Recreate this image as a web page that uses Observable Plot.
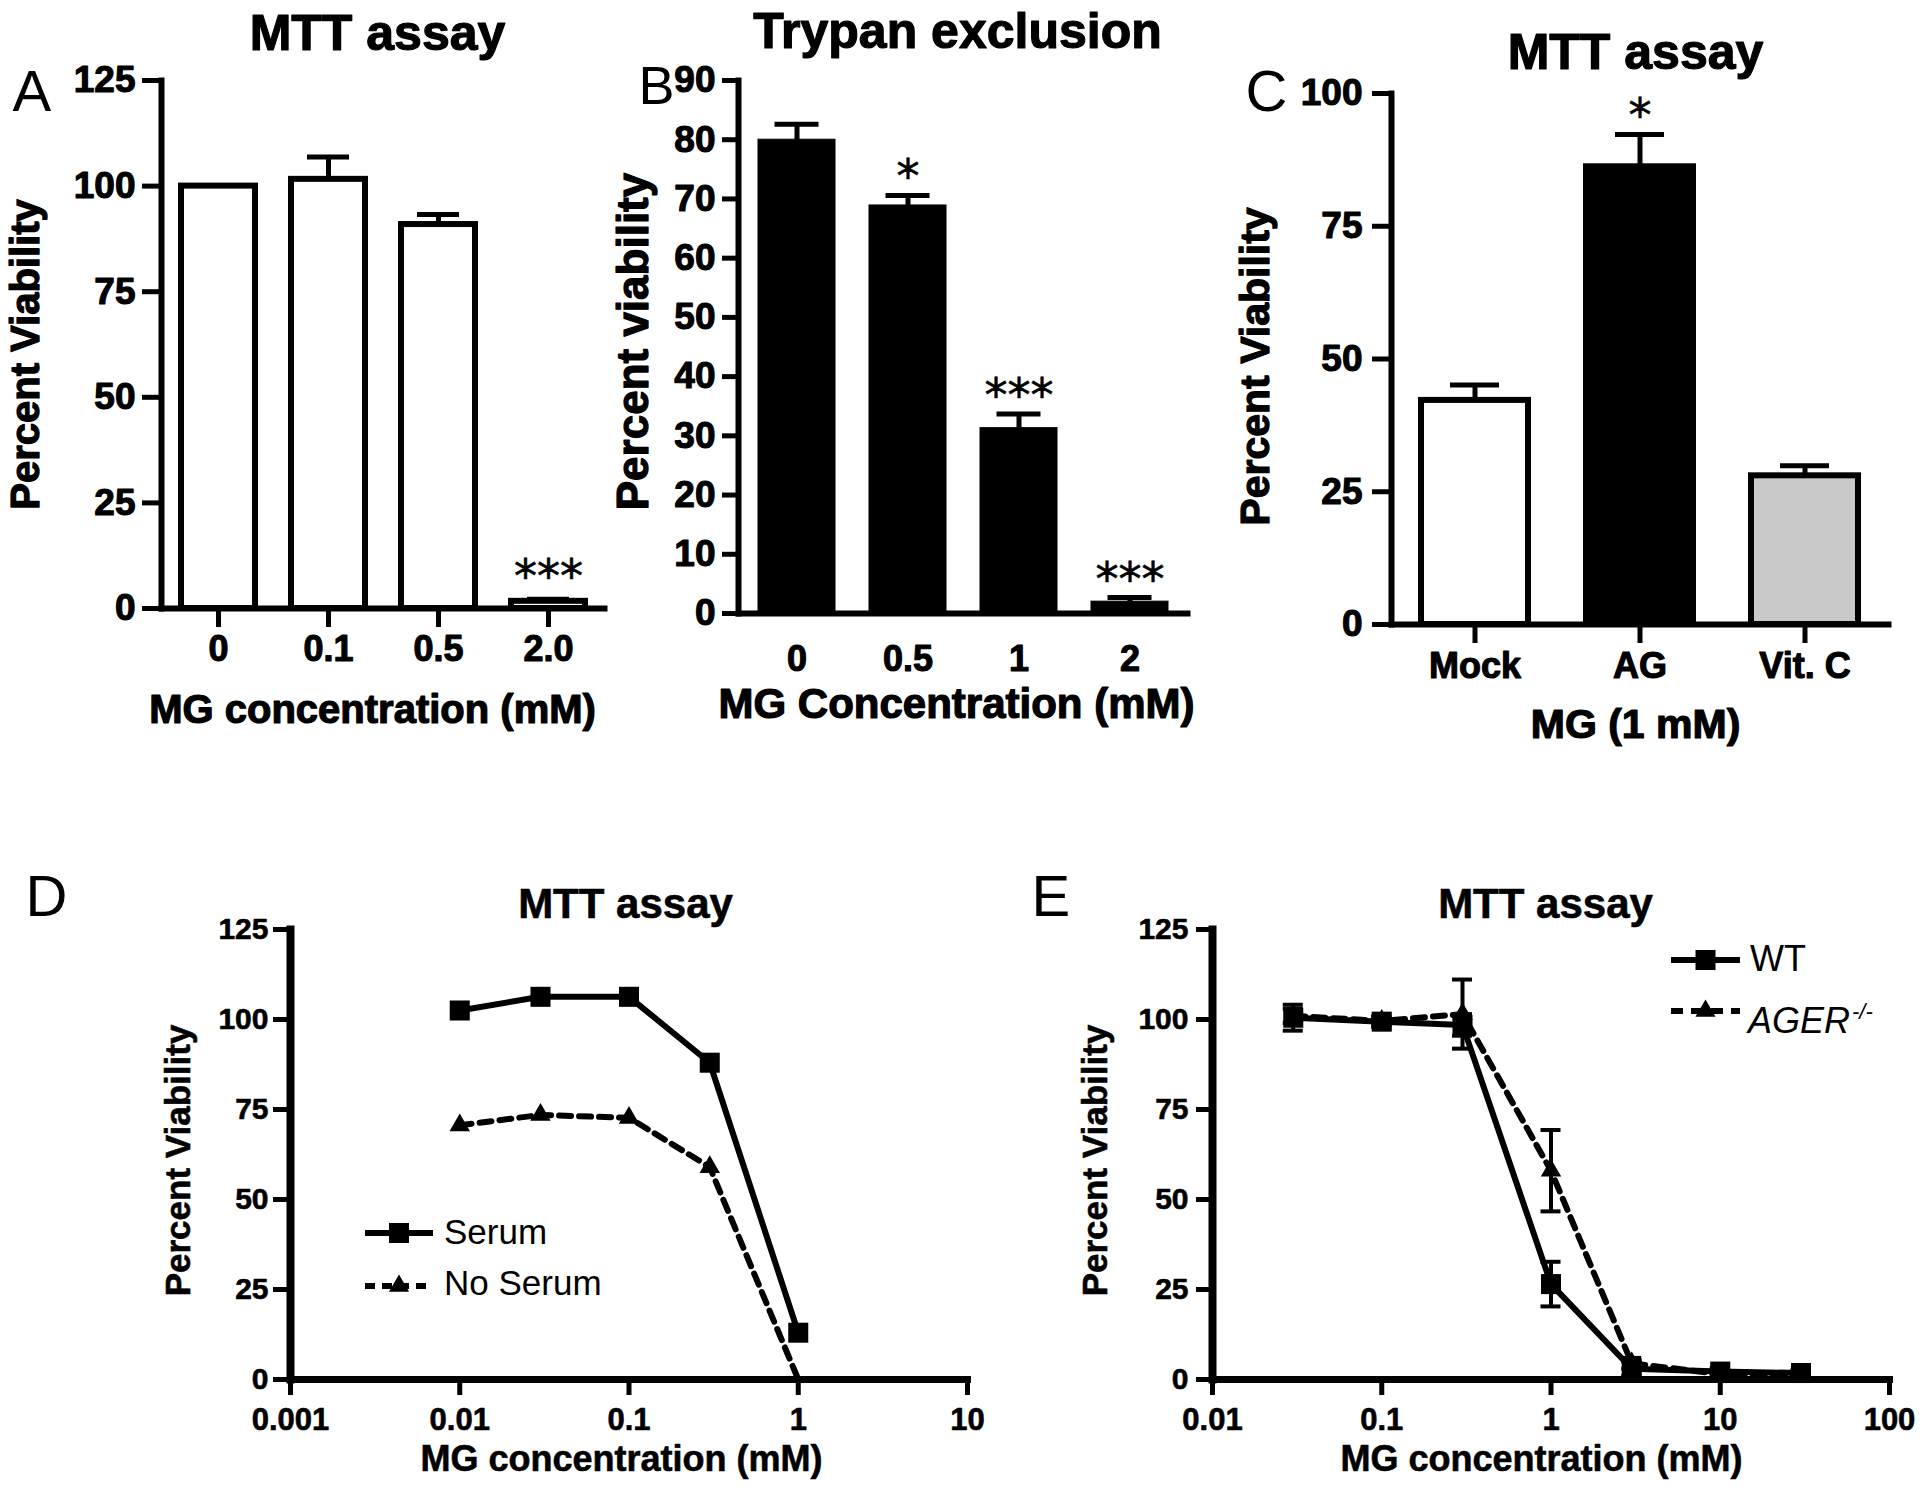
<!DOCTYPE html>
<html>
<head>
<meta charset="utf-8">
<script src="https://cdn.jsdelivr.net/npm/d3@7"></script>
<script src="https://cdn.jsdelivr.net/npm/@observablehq/plot@0.6"></script>
<style>
  html, body { margin: 0; padding: 0; background: #fff; }
  #fig { position: relative; width: 1920px; height: 1494px; background: #fff; overflow: hidden;
         font-family: "Liberation Sans", Arial, Helvetica, sans-serif; color: #000; }
  #fig > svg { position: absolute; overflow: visible; }
  .legtext { position: absolute; line-height: 1; white-space: nowrap; }
  .legsw { position: absolute; overflow: visible; }
</style>
</head>
<body>
<div id="fig"></div>
<script>
// ---------------- DATA ----------------
// Panel A: MTT assay
const aCats  = ["0", "0.1", "0.5", "2.0"];
const aMeans = [100, 101.6, 90.9, 1.7];
const aErrs  = [0, 5.3, 2.4, 0.5];
const aStars = ["", "", "", "***"];
const aYTicks = [0, 25, 50, 75, 100, 125];

// Panel B: Trypan exclusion
const bCats  = ["0", "0.5", "1", "2"];
const bMeans = [80, 68.9, 31.3, 2.0];
const bErrs  = [2.6, 1.7, 2.4, 0.7];
const bStars = ["", "*", "***", "***"];
const bYTicks = [0, 10, 20, 30, 40, 50, 60, 70, 80, 90];

// Panel C: MTT assay, MG (1 mM)
const cCats  = ["Mock", "AG", "Vit. C"];
const cMeans = [42.2, 86.2, 28.0];
const cErrs  = [2.9, 6.1, 1.9];
const cStars = ["", "*", ""];
const cYTicks = [0, 25, 50, 75, 100];

// Panel D: MTT assay, serum vs no serum
const dConc     = [0.01, 0.03, 0.1, 0.3, 1];
const dSerum    = [102.5, 106.3, 106.3, 88, 13];
const dNoSerum  = [70.6, 73.5, 72.7, 59, 0];
const dSeries   = ["Serum", "No Serum"];
const dXTicks   = [0.001, 0.01, 0.1, 1, 10];
const dXLabels  = ["0.001", "0.01", "0.1", "1", "10"];

// Panel E: MTT assay, WT vs AGER-/-
const eConc     = [0.03, 0.1, 0.3, 1, 3, 10, 30];
const eWT       = [100.5, 99.4, 98.5, 26.5, 3.0, 2.2, 1.8];
const eWTErr    = [3.6, 1.5, 3.0, 6.2, 2.0, 1.0, 0.8];
const eAGER     = [101.0, 99.6, 101.5, 58.0, 4.5, 1.5, 1.0];
const eAGERErr  = [2.0, 1.0, 9.6, 11.3, 1.5, 0.5, 0.5];
const eSeries   = ["WT", "AGER"];
const eXTicks   = [0.01, 0.1, 1, 10, 100];
const eXLabels  = ["0.01", "0.1", "1", "10", "100"];

const lineYTicks = [0, 25, 50, 75, 100, 125];

// ---------------- HELPERS ----------------
const FONT = '"Liberation Sans", Arial, Helvetica, sans-serif';
const fig = document.getElementById("fig");

function put(svg, p, tickStroke) {
  svg.style.left = p.left + "px";
  svg.style.top = p.top + "px";
  // embolden the tick labels a little, as in the original figure
  d3.select(svg).selectAll('g[aria-label$="tick label"]')
    .attr("stroke", "black").attr("stroke-width", tickStroke).attr("stroke-linejoin", "round");
  fig.appendChild(svg);
}

// text placed at an absolute page position (X, Y)
function txt(p, s, X, Y, o = {}) {
  return Plot.text([s], {
    text: d => d, frameAnchor: "top-left",
    dx: X - p.left - p.mL, dy: Y - p.top - p.mT,
    fontFamily: FONT, fill: "black", ...o
  });
}

function panelTexts(p, t) {
  const bold = {fontWeight: "bold", stroke: "black", strokeWidth: t.boldStroke, strokeLinejoin: "round"};
  return [
    txt(p, t.title, t.titleX, t.titleY, {fontSize: t.titleSize, ...bold, textAnchor: "middle", lineAnchor: "bottom"}),
    txt(p, t.letter, t.letterX, t.letterY, {fontSize: t.letterSize, textAnchor: "start", lineAnchor: "bottom"}),
    txt(p, t.ylab, t.ylabX, t.ylabY, {fontSize: t.ylabSize, ...bold, rotate: -90, textAnchor: "middle", lineAnchor: "top"}),
    txt(p, t.xlab, t.xlabX, t.xlabY, {fontSize: t.xlabSize, ...bold, textAnchor: "middle", lineAnchor: "bottom"})
  ];
}

function barPanel(p, t) {
  const rows = p.cats.map((cat, i) => ({cat, v: p.means[i], e: p.errs[i], hi: p.means[i] + p.errs[i], star: p.stars[i]}));
  const withErr = rows.filter(d => d.e > 0);
  const svg = Plot.plot({
    width: p.w, height: p.h,
    marginLeft: p.mL, marginRight: p.mR, marginTop: p.mT, marginBottom: p.mB,
    style: {fontFamily: FONT, overflow: "visible", background: "transparent", color: "black"},
    x: {type: "band", domain: p.cats, paddingInner: p.pi, paddingOuter: p.po},
    y: {domain: [0, p.yTicks[p.yTicks.length - 1]]},
    color: p.color,
    marks: [
      Plot.barY(rows, {x: "cat", y: "v", fill: p.fill, stroke: "black", strokeWidth: p.barStroke}),
      Plot.ruleX(withErr, {x: "cat", y1: "v", y2: "hi", stroke: "black", strokeWidth: 5}),
      Plot.tickY(withErr, {x: "cat", y: "hi", stroke: "black", strokeWidth: 5, inset: p.capInset}),
      Plot.text(rows, {x: "cat", y: "hi", text: "star", lineAnchor: "bottom", dy: p.starDy, fontSize: 46,
                       fontFamily: "DejaVu Sans", fill: "black", stroke: "black", strokeWidth: 0.6}),
      Plot.axisY({ticks: p.yTicks, label: null, tickSize: p.yTickSize, tickPadding: p.yTickPad,
                  fontSize: 37, fontWeight: "bold", strokeWidth: 5, stroke: "black", fill: "black"}),
      Plot.axisX({label: null, tickSize: p.xTickSize, tickPadding: p.xTickPad,
                  fontSize: 36, fontWeight: "bold", strokeWidth: 5, stroke: "black", fill: "black"}),
      Plot.frame({anchor: "left", stroke: "black", strokeWidth: 6}),
      Plot.frame({anchor: "bottom", stroke: "black", strokeWidth: 6}),
      ...panelTexts(p, t)
    ]
  });
  put(svg, p, 1.1);
}

function linePanel(p, t) {
  const s1 = p.x.map((c, i) => ({c, v: p.y1[i], e: p.e1 ? p.e1[i] : 0}));
  const s2 = p.x.map((c, i) => ({c, v: p.y2[i], e: p.e2 ? p.e2[i] : 0}));
  const errs = [...s1, ...s2].filter(d => d.e > 0);
  const k = Math.pow(10, 10 / p.pxPerDecade); // cap half-width of 10 px on the log axis
  const fmt = new Map(p.xTicks.map((d, i) => [d, p.xLabels[i]]));
  const svg = Plot.plot({
    width: p.w, height: p.h,
    marginLeft: p.mL, marginRight: p.mR, marginTop: p.mT, marginBottom: p.mB,
    style: {fontFamily: FONT, overflow: "visible", background: "transparent", color: "black"},
    x: {type: "log", domain: [p.xTicks[0], p.xTicks[p.xTicks.length - 1]]},
    y: {domain: [0, lineYTicks[lineYTicks.length - 1]]},
    marks: [
      Plot.ruleX(errs, {x: "c", y1: d => d.v - d.e, y2: d => d.v + d.e, stroke: "black", strokeWidth: 4}),
      Plot.ruleY(errs, {x1: d => d.c / k, x2: d => d.c * k, y: d => d.v + d.e, stroke: "black", strokeWidth: 4}),
      Plot.ruleY(errs, {x1: d => d.c / k, x2: d => d.c * k, y: d => Math.max(0, d.v - d.e), stroke: "black", strokeWidth: 4}),
      Plot.line(s1, {x: "c", y: "v", stroke: "black", strokeWidth: 6}),
      Plot.line(s2, {x: "c", y: "v", stroke: "black", strokeWidth: 6, strokeDasharray: "12,8"}),
      Plot.dot(s2.filter(d => d.v > 0), {x: "c", y: "v", symbol: "triangle", r: 7.6, fill: "black"}),
      Plot.dot(s1, {x: "c", y: "v", symbol: "square", r: 11.3, fill: "black"}),
      Plot.axisY({ticks: lineYTicks, label: null, tickSize: p.yTickSize, tickPadding: p.yTickPad,
                  fontSize: 30, fontWeight: "bold", strokeWidth: 5, stroke: "black", fill: "black"}),
      Plot.axisX({ticks: p.xTicks, tickFormat: d => fmt.get(d), label: null, tickSize: 16, tickPadding: 12,
                  fontSize: 31, fontWeight: "bold", strokeWidth: 5, stroke: "black", fill: "black"}),
      Plot.frame({anchor: "left", stroke: "black", strokeWidth: 8}),
      Plot.frame({anchor: "bottom", stroke: "black", strokeWidth: 7}),
      ...panelTexts(p, t)
    ]
  });
  put(svg, p, 0.6);
}

// legend entry (HTML overlay)
function legendItem(o) {
  const sw = d3.create("svg").attr("class", "legsw").attr("width", o.w).attr("height", 30)
    .style("left", o.x + "px").style("top", (o.cy - 15) + "px");
  sw.append("line").attr("x1", 0).attr("x2", o.w).attr("y1", 15).attr("y2", 15)
    .attr("stroke", "black").attr("stroke-width", 6).attr("stroke-dasharray", o.dash || null);
  sw.append("path").attr("transform", `translate(${o.w / 2},15)`)
    .attr("d", d3.symbol(o.symbol, o.size)()).attr("fill", "black");
  fig.appendChild(sw.node());
  const div = document.createElement("div");
  div.className = "legtext";
  div.style.left = o.tx + "px";
  div.style.top = (o.baseline - 0.8465 * o.fs) + "px";
  div.style.fontSize = o.fs + "px";
  if (o.italic) {
    const i = document.createElement("i"); i.textContent = o.label; div.appendChild(i);
    const sup = document.createElement("span");
    sup.textContent = "-/-";
    sup.style.fontSize = "22px"; sup.style.fontStyle = "italic";
    sup.style.position = "relative"; sup.style.top = "-14px"; sup.style.marginLeft = "2px";
    div.appendChild(sup);
  } else {
    div.textContent = o.label;
  }
  fig.appendChild(div);
}

// ---------------- PANELS ----------------
const pA = {left: 0, top: 0, w: 630, h: 760, mL: 161, mR: 26, mT: 80, mB: 152,
  cats: aCats, means: aMeans, errs: aErrs, stars: aStars, yTicks: aYTicks,
  pi: 0.33, po: 0.165, fill: "white", barStroke: 6, capInset: 16, starDy: -7,
  yTickSize: 19, yTickPad: 7, xTickSize: 19, xTickPad: 8};
barPanel(pA, {title: "MTT assay", titleX: 377, titleY: 49, titleSize: 50, boldStroke: 1.2,
  letter: "A", letterX: 12, letterY: 110, letterSize: 58,
  ylab: "Percent Viability", ylabX: 10, ylabY: 354, ylabSize: 40,
  xlab: "MG concentration (mM)", xlabX: 372, xlabY: 722, xlabSize: 40});

const pB = {left: 630, top: 0, w: 600, h: 760, mL: 108, mR: 43, mT: 80, mB: 147,
  cats: bCats, means: bMeans, errs: bErrs, stars: bStars, yTicks: bYTicks,
  pi: 0.31, po: 0.17, fill: "black", barStroke: 1, capInset: 16.5, starDy: -3,
  yTickSize: 16, yTickPad: 7, xTickSize: 0, xTickPad: 32};
barPanel(pB, {title: "Trypan exclusion", titleX: 957, titleY: 47, titleSize: 50, boldStroke: 1.2,
  letter: "B", letterX: 638, letterY: 103, letterSize: 54,
  ylab: "Percent viability", ylabX: 616, ylabY: 341, ylabSize: 44,
  xlab: "MG Concentration (mM)", xlabX: 956, xlabY: 717, xlabSize: 42});

const pC = {left: 1230, top: 0, w: 690, h: 760, mL: 161, mR: 32, mT: 93, mB: 136,
  cats: cCats, means: cMeans, errs: cErrs, stars: cStars, yTicks: cYTicks,
  pi: 0.353, po: 0.18, fill: "cat", barStroke: 6, capInset: 29, starDy: -3,
  color: {domain: cCats, range: ["white", "black", "#c8c8c8"]},
  yTickSize: 19, yTickPad: 10, xTickSize: 19, xTickPad: 9};
barPanel(pC, {title: "MTT assay", titleX: 1635, titleY: 68, titleSize: 50, boldStroke: 1.2,
  letter: "C", letterX: 1245, letterY: 110, letterSize: 58,
  ylab: "Percent Viability", ylabX: 1239, ylabY: 366, ylabSize: 41,
  xlab: "MG (1 mM)", xlabX: 1635, xlabY: 737, xlabSize: 41});

const pD = {left: 0, top: 760, w: 975, h: 734, mL: 290, mR: 8, mT: 169, mB: 115,
  x: dConc, y1: dSerum, y2: dNoSerum, xTicks: dXTicks, xLabels: dXLabels, pxPerDecade: 169.25,
  yTickSize: 17, yTickPad: 5};
linePanel(pD, {title: "MTT assay", titleX: 625, titleY: 917, titleSize: 42, boldStroke: 0.6,
  letter: "D", letterX: 25, letterY: 915, letterSize: 58,
  ylab: "Percent Viability", ylabX: 165, ylabY: 1160, ylabSize: 35,
  xlab: "MG concentration (mM)", xlabX: 621, xlabY: 1470, xlabSize: 36});

const pE = {left: 975, top: 760, w: 945, h: 734, mL: 237, mR: 31, mT: 169, mB: 115,
  x: eConc, y1: eWT, e1: eWTErr, y2: eAGER, e2: eAGERErr, xTicks: eXTicks, xLabels: eXLabels, pxPerDecade: 169.25,
  yTickSize: 16, yTickPad: 8};
linePanel(pE, {title: "MTT assay", titleX: 1545, titleY: 917, titleSize: 42, boldStroke: 0.6,
  letter: "E", letterX: 1031, letterY: 915, letterSize: 58,
  ylab: "Percent Viability", ylabX: 1082, ylabY: 1160, ylabSize: 35,
  xlab: "MG concentration (mM)", xlabX: 1541, xlabY: 1470, xlabSize: 36});

// ---------------- LEGENDS ----------------
legendItem({label: dSeries[0], x: 365, w: 68, cy: 1233, symbol: d3.symbolSquare, size: 400, tx: 444, baseline: 1244, fs: 35});
legendItem({label: dSeries[1], x: 365, w: 68, cy: 1286, symbol: d3.symbolTriangle, size: 175, dash: "10,7", tx: 444, baseline: 1295, fs: 35});
legendItem({label: eSeries[0], x: 1671, w: 69, cy: 960, symbol: d3.symbolSquare, size: 400, tx: 1750, baseline: 971, fs: 36});
legendItem({label: eSeries[1], x: 1671, w: 69, cy: 1011, symbol: d3.symbolTriangle, size: 175, dash: "12,8", tx: 1748, baseline: 1033, fs: 36, italic: true});
</script>
</body>
</html>
